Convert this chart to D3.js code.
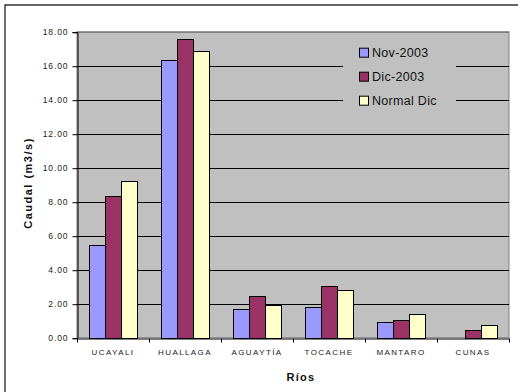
<!DOCTYPE html>
<html>
<head>
<meta charset="utf-8">
<script src="https://cdn.jsdelivr.net/npm/d3@7"></script>
<style>
  html, body { margin: 0; padding: 0; background: #fff; }
  svg { display: block; font-family: Arial, "Liberation Sans", sans-serif; }
</style>
</head>
<body>
<svg id="chart" width="518" height="392"></svg>
<script>
const categories = ["UCAYALI", "HUALLAGA", "AGUAYTÍA", "TOCACHE", "MANTARO", "CUNAS"];
const seriesNames = ["Nov-2003", "Dic-2003", "Normal Dic"];
const nov2003 = [5.45, 16.32, 1.69, 1.81, 0.92, null];
const dic2003 = [8.35, 17.58, 2.45, 3.06, 1.04, 0.47];
const normalDic = [9.22, 16.87, 1.94, 2.79, 1.41, 0.75];
const seriesColors = ["#9999FF", "#993366", "#FFFFCC"];
const yTicks = [0, 2, 4, 6, 8, 10, 12, 14, 16, 18];
const yTitle = "Caudal (m3/s)";
const xTitle = "Ríos";

const seriesValues = [nov2003, dic2003, normalDic];

const svg = d3.select("#chart");
const plot = { left: 77, right: 509, top: 31.7, bottom: 337.7 };

// outer frame (partially visible)
svg.append("path")
  .attr("d", `M5,392 V5 H518`)
  .attr("fill", "none").attr("stroke", "#333").attr("stroke-width", 1.4);

const x = d3.scaleBand().domain(categories).range([plot.left, plot.right]).paddingInner(0).paddingOuter(0);
const inner = d3.scaleBand().domain(seriesNames).range([0, x.bandwidth()]).paddingInner(0).paddingOuter(0.75 / 1.0);
// paddingOuter in units of step: gap 24 / bar 16 -> 12 each side = 0.75 step
const y = d3.scaleLinear().domain([0, 18]).range([plot.bottom, plot.top]);

// plot background
svg.append("rect")
  .attr("x", plot.left).attr("y", plot.top)
  .attr("width", plot.right - plot.left).attr("height", plot.bottom - plot.top)
  .attr("fill", "#C0C0C0").attr("stroke", "#808080").attr("stroke-width", 1);

// gridlines
svg.append("g").selectAll("line").data(yTicks.filter(d => d > 0))
  .join("line")
  .attr("x1", plot.left).attr("x2", plot.right)
  .attr("y1", d => Math.round(y(d)) + 0.5).attr("y2", d => Math.round(y(d)) + 0.5)
  .attr("stroke", d => d === 18 ? "#808080" : "#000").attr("stroke-width", 1);

// legend background (covers gridlines)
const legend = svg.append("g");
legend.append("rect")
  .attr("x", 343).attr("y", 40).attr("width", 113).attr("height", 72)
  .attr("fill", "#C0C0C0");

// bars
const groups = svg.append("g").selectAll("g").data(seriesNames).join("g");
groups.each(function(name, si) {
  d3.select(this).selectAll("rect")
    .data(categories.map((c, i) => ({ c, v: seriesValues[si][i] })).filter(d => d.v != null))
    .join("rect")
    .attr("x", d => Math.round(x(d.c) + inner(name)) + 0.5)
    .attr("y", d => Math.round(y(d.v)) + 0.5)
    .attr("width", inner.bandwidth())
    .attr("height", d => Math.round(y(0)) - Math.round(y(d.v)))
    .attr("fill", seriesColors[si])
    .attr("stroke", "#000").attr("stroke-width", 1);
});

// y axis
const yAxis = d3.axisLeft(y).tickValues(yTicks).tickFormat(d3.format(".2f")).tickSize(5).tickPadding(4);
const gy = svg.append("g").attr("transform", `translate(${plot.left + 0.5},0.5)`).call(yAxis);
gy.select(".domain").attr("stroke", "#000");
gy.selectAll(".tick line").attr("stroke", "#000");
gy.selectAll("text").attr("font-size", "8.5px").attr("fill", "#222")
  .style("letter-spacing", "0.9px").attr("font-family", "Arial, 'Liberation Sans', sans-serif");

// x axis
const xAxis = d3.axisBottom(x).tickSize(0).tickPadding(11);
const gx = svg.append("g").attr("transform", `translate(0,${Math.round(plot.bottom) + 0.5})`).call(xAxis);
gx.select(".domain").attr("stroke", "#000");
gx.selectAll("text").attr("font-size", "8px").attr("fill", "#222")
  .style("letter-spacing", "1.4px").attr("font-family", "Arial, 'Liberation Sans', sans-serif");
// boundary ticks
const bounds = categories.map(c => x(c)).concat([x(categories[categories.length - 1]) + x.bandwidth()]);
gx.append("g").selectAll("line").data(bounds).join("line")
  .attr("x1", d => Math.round(d) + 0.5).attr("x2", d => Math.round(d) + 0.5)
  .attr("y1", 0).attr("y2", 4).attr("stroke", "#000");

// axis titles
svg.append("text")
  .attr("transform", `translate(32,183) rotate(-90)`)
  .attr("text-anchor", "middle")
  .attr("font-size", "11px").attr("font-weight", "bold").attr("fill", "#111")
  .style("letter-spacing", "1.5px")
  .text(yTitle);
svg.append("text")
  .attr("x", 301).attr("y", 381)
  .attr("text-anchor", "middle")
  .attr("font-size", "11px").attr("font-weight", "bold").attr("fill", "#111")
  .style("letter-spacing", "1.3px")
  .text(xTitle);

// legend items
const li = legend.selectAll("g.item").data(seriesNames).join("g")
  .attr("class", "item")
  .attr("transform", (d, i) => `translate(359,${52.7 + i * 24})`);
li.append("rect")
  .attr("x", 0.5).attr("y", -4.5).attr("width", 9).attr("height", 9)
  .attr("fill", (d, i) => seriesColors[i]).attr("stroke", "#000").attr("stroke-width", 1);
li.append("text")
  .attr("x", 13).attr("y", 0).attr("dy", "0.36em")
  .attr("font-size", "12.5px").attr("fill", "#111")
  .style("letter-spacing", "0.3px")
  .text(d => d);
</script>
</body>
</html>
